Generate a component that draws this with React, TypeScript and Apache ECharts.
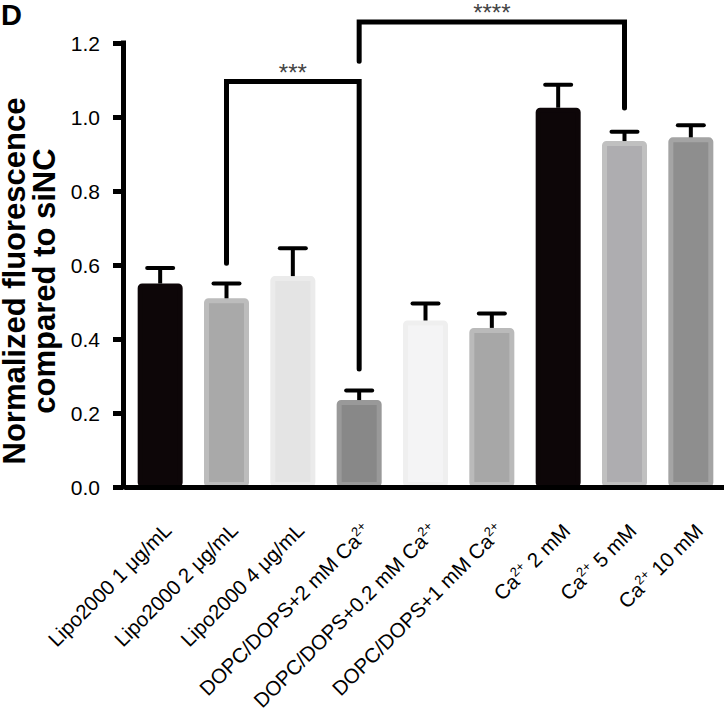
import React, { useEffect, useRef } from "react";
import * as echarts from "echarts";

const categories = [
  "Lipo2000 1 μg/mL",
  "Lipo2000 2 μg/mL",
  "Lipo2000 4 μg/mL",
  "DOPC/DOPS+2 mM Ca2+",
  "DOPC/DOPS+0.2 mM Ca2+",
  "DOPC/DOPS+1 mM Ca2+",
  "Ca2+ 2 mM",
  "Ca2+ 5 mM",
  "Ca2+ 10 mM",
];
const means = [0.55, 0.51, 0.57, 0.235, 0.45, 0.43, 1.025, 0.935, 0.945];
const errors = [0.042, 0.04, 0.075, 0.026, 0.046, 0.039, 0.062, 0.025, 0.033];
const fillColors = ["#0d0608", "#a9a9a9", "#e4e4e4", "#888888", "#f4f4f5", "#a7a7a7", "#0d0608", "#aeadb0", "#8e8e8e"];
const edgeColors = ["#0d0608", "#bcbcbc", "#ebebeb", "#999999", "#efefef", "#bababa", "#0d0608", "#c0c0c0", "#a4a4a4"];

const yMin = 0;
const yMax = 1.2;
const yStep = 0.2;

const bracketFrom = [1, 3];
const bracketTo = [3, 7];
const bracketTop = [1.096, 1.257];
const bracketLeftEnd = [0.605, 1.151];
const bracketRightEnd = [0.319, 1.024];
const bracketLabels = ["***", "****"];

const FONT = "'Liberation Sans', Arial, Helvetica, sans-serif";

export default function App() {
  const ref = useRef<HTMLDivElement>(null);

  useEffect(() => {
    if (!ref.current) return;
    const chart = echarts.init(ref.current, null, { renderer: "svg" });

    const barData = means.map((v, i) => ({
      value: v,
      itemStyle: {
        color: fillColors[i],
        borderColor: edgeColors[i],
        borderWidth: 5,
        borderRadius: 2,
      },
    }));

    const errData = means.map((v, i) => [i, v, v + errors[i]]);
    const bracketData = bracketFrom.map((f, i) => [
      f,
      bracketTo[i],
      bracketTop[i],
      bracketLeftEnd[i],
      bracketRightEnd[i],
    ]);

    const option: any = {
      animation: false,
      textStyle: { fontFamily: FONT },
      grid: {
        left: 127,
        right: 0,
        top: 43,
        bottom: 230,
        containLabel: false,
        outerBoundsMode: "none",
      },
      graphic: [
        {
          type: "text",
          x: 1,
          y: 0,
          style: {
            text: "D",
            fontSize: 29,
            fontWeight: "bold",
            fontFamily: FONT,
            fill: "#000",
            verticalAlign: "top",
            align: "left",
          },
        },
      ],
      xAxis: {
        type: "category",
        data: categories,
        z: 10,
        axisLine: { lineStyle: { color: "#000", width: 5, cap: "square" } },
        axisTick: { alignWithLabel: true, length: 15, lineStyle: { color: "#000", width: 5 } },
        axisLabel: {
          interval: 0,
          rotate: 45,
          margin: 32,
          verticalAlign: "top",
          fontSize: 20.5,
          color: "#000",
          fontFamily: FONT,
          formatter: (v: string) => v.replace("Ca2+", "Ca{sup|2+}"),
          rich: {
            sup: { fontSize: 13, color: "#000", fontFamily: FONT, padding: [0, 0, 10, 0] },
          },
        },
      },
      yAxis: {
        type: "value",
        min: yMin,
        max: yMax,
        interval: yStep,
        offset: 4,
        z: 10,
        axisLine: { show: true, lineStyle: { color: "#000", width: 5, cap: "square" } },
        axisTick: { show: true, length: 10, lineStyle: { color: "#000", width: 5 } },
        splitLine: { show: false },
        axisLabel: {
          margin: 23,
          fontSize: 21,
          color: "#000",
          fontFamily: FONT,
          formatter: (v: number) => v.toFixed(1),
        },
        name: "Normalized fluorescence\ncompared to siNC",
        nameLocation: "middle",
        nameRotate: 90,
        nameGap: 56,
        nameTextStyle: {
          fontSize: 31,
          fontWeight: "bold",
          color: "#000",
          fontFamily: FONT,
          lineHeight: 30,
          padding: [0, 32, 0, 0],
        },
      },
      series: [
        {
          type: "bar",
          data: barData,
          barWidth: 45,
          z: 2,
        },
        {
          type: "custom",
          z: 5,
          clip: false,
          data: errData,
          encode: { x: 0, y: [1, 2] },
          renderItem: (params: any, api: any) => {
            const base = api.coord([api.value(0), api.value(1)]);
            const top = api.coord([api.value(0), api.value(2)]);
            const half = 13;
            return {
              type: "group",
              children: [
                {
                  type: "line",
                  shape: { x1: base[0], y1: base[1], x2: top[0], y2: top[1] },
                  style: { stroke: "#000", lineWidth: 4 },
                },
                {
                  type: "line",
                  shape: { x1: top[0] - half, y1: top[1], x2: top[0] + half, y2: top[1] },
                  style: { stroke: "#000", lineWidth: 4, lineCap: "round" },
                },
              ],
            };
          },
        },
        {
          type: "custom",
          z: 6,
          clip: false,
          data: bracketData,
          encode: { x: [0, 1], y: [2, 3, 4] },
          renderItem: (params: any, api: any) => {
            const i = params.dataIndex;
            const pL = api.coord([api.value(0), api.value(3)]);
            const tL = api.coord([api.value(0), api.value(2)]);
            const tR = api.coord([api.value(1), api.value(2)]);
            const pR = api.coord([api.value(1), api.value(4)]);
            return {
              type: "group",
              children: [
                {
                  type: "polyline",
                  shape: { points: [pL, tL, tR, pR] },
                  style: { stroke: "#000", lineWidth: 5, fill: null, lineJoin: "miter", lineCap: "round" },
                },
                {
                  type: "text",
                  x: (tL[0] + tR[0]) / 2,
                  y: tL[1] - 9,
                  style: {
                    text: bracketLabels[i],
                    fontSize: 24,
                    fontFamily: FONT,
                    fill: "#444",
                    align: "center",
                    verticalAlign: "middle",
                  },
                },
              ],
            };
          },
        },
      ],
    };

    chart.setOption(option);
    return () => chart.dispose();
  }, []);

  return (
    <div
      ref={ref}
      style={{ position: "absolute", left: 0, top: 0, width: 724, height: 717 }}
    />
  );
}
